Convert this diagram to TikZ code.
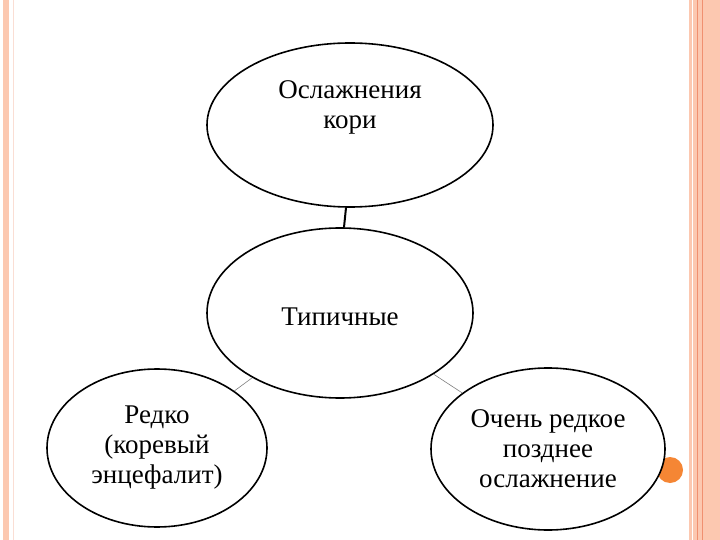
\documentclass[tikz,border=0pt]{standalone}
\usepackage{fontspec}
\setmainfont{Liberation Serif}
\usetikzlibrary{shapes.geometric,calc}
\definecolor{band}{HTML}{FCC8B0}
\definecolor{bandline}{HTML}{F09070}
\definecolor{dot}{HTML}{F58634}
\tikzset{oval/.style={ellipse,draw=black,line width=1.6pt,fill=white,inner sep=0pt,align=center,font=\fontsize{27}{30}\selectfont}}
\begin{document}
\begin{tikzpicture}[x=1pt,y=-1pt]
\useasboundingbox (0,0) rectangle (720,540);
\fill[white] (0,0) rectangle (720,540);
\fill[band] (3,0) rectangle (9,540);
\draw[bandline!30,line width=0.5pt] (13,0)--(13,540);
\fill[band] (689,0) rectangle (720,540);
\draw[white,line width=1pt] (692,0)--(692,540);
\draw[bandline,line width=0.8pt] (697,0)--(697,540);
\draw[bandline,line width=0.8pt] (702,0)--(702,540);
\fill[dot] (670,470) circle (13);
\node[oval,minimum width=286,minimum height=164] (top) at (350,125) {Ослажнения\\кори\\[10pt]};
\node[oval,minimum width=266,minimum height=170] (mid) at (340,313) {\\[-4pt]Типичные};
\node[oval,minimum width=220,minimum height=158] (left) at (157,448) {Редко\\(коревый\\энцефалит)};
\node[oval,minimum width=234,minimum height=162] (right) at (548,449) {Очень редкое\\позднее\\ослажнение};
\draw[line width=2pt] ($(top.south)+(-4,0)$) -- ($(mid.north)+(4,0)$);
\draw[gray,line width=0.6pt] (mid) -- (left);
\draw[gray,line width=0.6pt] (mid) -- (right);
\end{tikzpicture}
\end{document}
